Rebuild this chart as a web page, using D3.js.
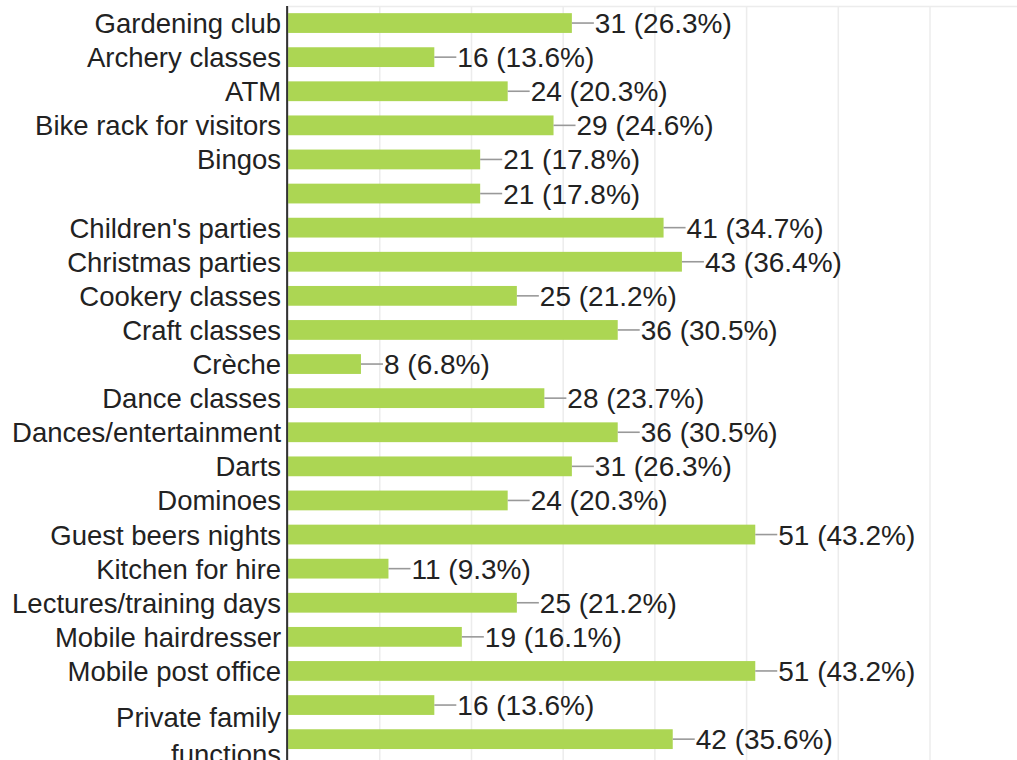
<!DOCTYPE html>
<html>
<head>
<meta charset="utf-8">
<script src="https://cdn.jsdelivr.net/npm/d3@7"></script>
<style>
  html, body { margin: 0; padding: 0; background: #fff; }
  svg { display: block; font-family: Arial, 'Liberation Sans', sans-serif; }
</style>
</head>
<body>
<div id="chart"></div>
<script>
// categories (two labels are not shown in the original)
const categories = [
  'Gardening club', 'Archery classes', 'ATM', 'Bike rack for visitors', 'Bingos', '',
  "Children's parties", 'Christmas parties', 'Cookery classes', 'Craft classes', 'Crèche',
  'Dance classes', 'Dances/entertainment', 'Darts', 'Dominoes', 'Guest beers nights',
  'Kitchen for hire', 'Lectures/training days', 'Mobile hairdresser', 'Mobile post office',
  '', 'Private family functions'
];
const counts = [31, 16, 24, 29, 21, 21, 41, 43, 25, 36, 8, 28, 36, 31, 24, 51, 11, 25, 19, 51, 16, 42];
const percents = ['26.3', '13.6', '20.3', '24.6', '17.8', '17.8', '34.7', '36.4', '21.2', '30.5', '6.8',
  '23.7', '30.5', '26.3', '20.3', '43.2', '9.3', '21.2', '16.1', '43.2', '13.6', '35.6'];
const xTicks = [0, 10, 20, 30, 40, 50, 60, 70, 80];

const width = 1017;
const height = 760;
const marginLeft = 287.6;
const marginTop = 6;
const rowStep = 34.1;

const data = categories.map((c, i) => ({ key: i, label: c, count: counts[i], pct: percents[i] }));

// scales
const xScale = d3.scaleLinear([0, 80], [marginLeft, marginLeft + 80 * 9.17]);
const yScale = d3.scaleBand(d3.range(data.length), [marginTop, marginTop + rowStep * data.length])
  .paddingInner(0.42)
  .paddingOuter(0.21);

const svg = d3.select('#chart')
  .append('svg')
  .attr('width', width)
  .attr('height', height);

// grid lines + top border
svg.append('g')
  .attr('transform', `translate(0,${marginTop})`)
  .call(d3.axisTop(xScale).tickValues(xTicks).tickSize(-(height + 20)).tickSizeOuter(0).tickFormat(''))
  .call((g) => g.selectAll('.tick line').attr('stroke', '#ececec').attr('stroke-width', 1.5))
  .call((g) => g.select('.domain').attr('stroke', '#ececec').attr('stroke-width', 1.5));

// bars
svg.append('g')
  .selectAll('rect')
  .data(data)
  .join('rect')
  .attr('x', xScale(0) + 0.5)
  .attr('y', (d) => yScale(d.key))
  .attr('height', yScale.bandwidth())
  .attr('width', (d) => xScale(d.count) - xScale(0) - 0.5)
  .attr('fill', '#acd653');

// connector lines
svg.append('g')
  .selectAll('line')
  .data(data)
  .join('line')
  .attr('x1', (d) => xScale(d.count))
  .attr('x2', (d) => xScale(d.count) + 22)
  .attr('y1', (d) => yScale(d.key) + yScale.bandwidth() / 2)
  .attr('y2', (d) => yScale(d.key) + yScale.bandwidth() / 2)
  .attr('stroke', '#999')
  .attr('stroke-width', 1.6);

// value labels
svg.append('g')
  .selectAll('text')
  .data(data)
  .join('text')
  .attr('x', (d) => xScale(d.count) + 23)
  .attr('y', (d) => yScale(d.key) + yScale.bandwidth() / 2 + 10)
  .attr('font-size', 28)
  .attr('fill', '#222')
  .text((d) => `${d.count} (${d.pct}%)`);

// category axis
const yAxis = d3.axisLeft(yScale).tickSize(0).tickPadding(6).tickFormat((i) => categories[i]);
const gY = svg.append('g')
  .attr('transform', `translate(${marginLeft - 0.5},0)`)
  .call(yAxis)
  .call((g) => g.select('.domain').remove());

gY.selectAll('.tick text')
  .attr('font-size', 27.5)
  .attr('fill', '#222')
  .attr('dy', null)
  .attr('y', 10)
  .each(function (i) {
    // wrap the long last label over two lines
    if (categories[i] === 'Private family functions') {
      const t = d3.select(this).text(null).attr('y', -12);
      t.append('tspan').attr('x', -6).text('Private family');
      t.append('tspan').attr('x', -6).attr('dy', 36.5).text('functions');
    }
  });

// vertical axis line
svg.append('line')
  .attr('x1', marginLeft - 0.5)
  .attr('x2', marginLeft - 0.5)
  .attr('y1', marginTop)
  .attr('y2', height + 20)
  .attr('stroke', '#333')
  .attr('stroke-width', 2);
</script>
</body>
</html>
